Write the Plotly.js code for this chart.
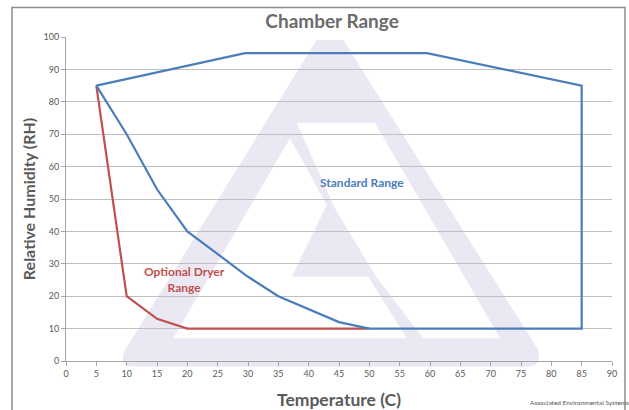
<!DOCTYPE html>
<html>
<head>
<meta charset="utf-8">
<script src="https://cdn.plot.ly/plotly-3.0.1.min.js"></script>
<style>html,body{margin:0;padding:0;background:#fff;}#chart{width:629px;height:410px;}</style>
</head>
<body>
<div id="chart"></div>
<script>
// Data
var standardTemp = [5, 29.5, 59.5, 85, 85, 50, 45, 40, 35, 30, 25, 20, 15, 10, 5];
var standardRH   = [85, 95, 95, 85, 10, 10, 12, 16, 20, 26, 33, 40, 53, 70, 85];
var dryerTemp = [5, 10, 15, 20, 50];
var dryerRH   = [85, 20, 13, 10, 10];
var xTicks = [0, 5, 10, 15, 20, 25, 30, 35, 40, 45, 50, 55, 60, 65, 70, 75, 80, 85, 90];
var yTicks = [0, 10, 20, 30, 40, 50, 60, 70, 80, 90, 100];

var FONT = 'Lato, "Open Sans", sans-serif';
var BLUE = '#4a7ebb';
var RED = '#c0504d';

var traces = [
  {x: dryerTemp, y: dryerRH, mode: 'lines', line: {color: RED, width: 2.2}, hoverinfo: 'skip'},
  {x: standardTemp, y: standardRH, mode: 'lines', line: {color: BLUE, width: 2.2}, hoverinfo: 'skip'}
];

// watermark logo (decorative background, paper coordinates)
var logo = 'M 0.4591 0.9907 L 0.5079 0.9907 L 0.8650 0.0340 Q 0.8720 -0.0176 0.8438 -0.0176 L 0.1233 -0.0176 Q 0.0950 -0.0176 0.1081 0.0340 Z ' +
           'M 0.4103 0.6873 L 0.4775 0.4815 L 0.4134 0.2602 L 0.5537 0.2602 L 0.6240 0.0701 L 0.1965 0.0701 Z ' +
           'M 0.4225 0.7355 L 0.5659 0.7355 L 0.7949 0.0701 L 0.6544 0.0701 L 0.5680 0.2602 L 0.4908 0.4762 Z';

var layout = {
  width: 629, height: 410,
  margin: {l: 66, r: 17, t: 37, b: 49},
  paper_bgcolor: '#ffffff', plot_bgcolor: 'rgba(0,0,0,0)',
  showlegend: false,
  font: {family: FONT, color: '#595959'},
  title: {text: '<b>Chamber Range</b>', x: 0.528, xanchor: 'center', y: 0.948, yanchor: 'middle',
          xref: 'container', yref: 'container', font: {family: FONT, size: 19, color: '#6b6b6b'}},
  xaxis: {
    range: [0, 90], tickvals: xTicks, ticktext: xTicks.map(String),
    showgrid: false, zeroline: false, showline: true, linecolor: '#a6a6a6', linewidth: 1,
    ticks: 'outside', ticklen: 4, tickcolor: '#a6a6a6',
    tickfont: {family: FONT, size: 9, color: '#595959'},
    title: {text: '<b>Temperature (C)</b>', font: {family: FONT, size: 17.5, color: '#595959'}, standoff: 15}
  },
  yaxis: {
    range: [0, 100], tickvals: yTicks, ticktext: yTicks.map(String),
    showgrid: true, gridcolor: '#bfbfbf', gridwidth: 1, zeroline: false,
    showline: true, linecolor: '#a6a6a6', linewidth: 1,
    ticks: 'outside', ticklen: 4, tickcolor: '#a6a6a6',
    tickfont: {family: FONT, size: 9, color: '#595959'},
    title: {text: '<b>Relative Humidity (RH)</b>', font: {family: FONT, size: 16, color: '#595959'}, standoff: 3}
  },
  shapes: [
    {type: 'path', xref: 'paper', yref: 'paper', path: logo, fillcolor: '#ece8f3',
     fillrule: 'evenodd', line: {width: 0}, layer: 'below'},
    {type: 'rect', xref: 'paper', yref: 'paper', x0: -0.0989, x1: 1.0238, y0: -0.20, y1: 1.0910,
     line: {color: '#8c8c8c', width: 1.5}, fillcolor: 'rgba(0,0,0,0)', layer: 'above'}
  ],
  annotations: [
    {x: 48.8, y: 55.2, xref: 'x', yref: 'y', text: '<b>Standard Range</b>', showarrow: false,
     font: {family: FONT, size: 12, color: BLUE}},
    {x: 19.6, y: 25.3, xref: 'x', yref: 'y', text: '<b>Optional Dryer<br>Range</b>', showarrow: false,
     font: {family: FONT, size: 12, color: RED}},
    {x: 1.035, y: -0.128, xref: 'paper', yref: 'paper', xanchor: 'right', yanchor: 'middle',
     text: 'Associated Environmental Systems', showarrow: false,
     font: {family: FONT, size: 6.5, color: '#555555'}}
  ]
};

Plotly.newPlot('chart', traces, layout, {displayModeBar: false, staticPlot: true});
</script>
</body>
</html>
